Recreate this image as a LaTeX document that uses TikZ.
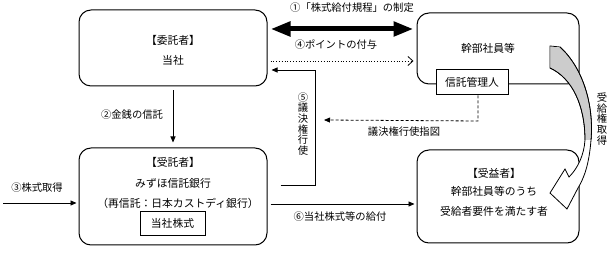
\documentclass[tikz,border=0pt]{standalone}
\usepackage{fontspec}
\setmainfont{Noto Sans CJK JP}
\usetikzlibrary{arrows.meta,calc}
\begin{document}
\begin{tikzpicture}[x=1pt,y=-1pt,
  every node/.style={font=\fontsize{10.8}{12}\selectfont, inner sep=0pt},
  rbox/.style={draw, line width=1pt, rounded corners=12pt},
  sbox/.style={draw, line width=1pt, fill=white},
  lbl/.style={font=\fontsize{10.3}{12}\selectfont},
  vlbl/.style={font=\fontsize{10.3}{10.7}\selectfont, align=center},
  arr/.style={line width=0.9pt, -{Triangle[length=6pt,width=5pt]}},
  dotarr/.style={line width=0.8pt, dotted, -{Straight Barb[length=5pt,width=9pt]}},
  dasharr/.style={line width=0.8pt, dash pattern=on 3pt off 2pt, -{Triangle[length=6pt,width=5pt]}},
  bigarr/.style={line width=5pt, {Triangle[length=20pt,width=14pt]}-{Triangle[length=20pt,width=14pt]}}
]
\useasboundingbox (0,0) rectangle (610,253);

% boxes
\node[rbox, minimum width=188pt, minimum height=76pt] (consignor) at (173,48) {};
\node at (173,40) (consignorT) {【委託者】};
\node at (173,60) (consignorN) {当社};

\node[rbox, minimum width=162pt, minimum height=71pt] (exec) at (498,48.5) {};
\node at (488,48) (execT) {幹部社員等};
\node[sbox, minimum width=72pt, minimum height=25pt] (mgr) at (472,82.5) {信託管理人};

\node[rbox, minimum width=188pt, minimum height=97pt] (trustee) at (173,196.5) {};
\node at (173,162) (trusteeT) {【受託者】};
\node at (173,183) (trusteeN) {みずほ信託銀行};
\node at (178,203.5) (trusteeR) {（再信託：日本カストディ銀行）};
\node[sbox, minimum width=65pt, minimum height=24pt] (stock) at (172.5,223.5) {当社株式};

\node[rbox, minimum width=162pt, minimum height=93pt] (benef) at (498,196.5) {};
\node at (494,173) (benefT) {【受益者】};
\node at (494,191) (benefN) {幹部社員等のうち};
\node at (494,211) (benefR) {受給者要件を満たす者};

% (1) big double arrow
\draw[bigarr] ($(consignor.east)+(3,-19)$) -- ($(exec.west)+(-3,-19.5)$);
\node[lbl] (l1) at (352,8) {①「株式給付規程」の制定};

% (4) dotted arrow
\draw[dotarr] ($(consignor.east)+(3,13)$) -- ($(exec.west)+(-3,12.5)$);
\node[lbl] (l4) at (336,45) {④ポイントの付与};

% (5) voting
\coordinate (v1) at ($(trustee.east)+(13,-11.5)$);
\coordinate (v2) at (315,185);
\coordinate (v3) at (315,70);
\draw[arr] (v1) -- (v2) -- (v3) -- ($(consignor.east)+(4,22)$);
\node[vlbl] (l5) at (303,124) {⑤\\議\\決\\権\\行\\使};

% voting instruction
\coordinate (d1) at ($(mgr.south)+(6,0)$);
\coordinate (d2) at ($(mgr.south)+(6,25.5)$);
\draw[dasharr] (d1) -- (d2) -- (324,120);
\node[lbl] (lvi) at (404,132) {議決権行使指図};

% (2)
\draw[arr] ($(consignor.south)+(0,4)$) -- ($(trustee.north)+(0,-5)$);
\node[lbl] (l2) at (132,115) {②金銭の信託};

% (3)
\coordinate (s3) at (3,203);
\draw[arr] (s3) -- ($(trustee.west)+(-2,6.5)$);
\node[lbl] (l3) at (37,188) {③株式取得};

% (6)
\draw[arr] ($(trustee.east)+(3,7.5)$) -- ($(benef.west)+(-2,7.5)$);
\node[lbl] (l6) at (340,217) {⑥当社株式等の給付};

% curved arrow
\draw[line width=0.8pt, fill=white, line join=miter]
  (550,46) -- (560,47) .. controls (583,68) and (594,105) .. (591,140)
  .. controls (589,165) and (584,178) .. (578,188)
  -- (567,209) -- (550,193) -- (565,169) -- (569,177)
  .. controls (578,168) and (584,155) .. (585,140)
  .. controls (585,105) and (572,78) .. (550,68) -- cycle;
\fill[gray!40] (550.5,46.7) -- (560,47.6) .. controls (582.5,68) and (593.3,105) .. (590.4,140)
  -- (585.6,140) .. controls (585.6,105) and (572,78.6) .. (550.5,67.4) -- cycle;
\draw[line width=0.8pt] (560,47) .. controls (583,68) and (594,105) .. (591,140);
\draw[line width=0.8pt] (585,140) .. controls (585,105) and (572,78) .. (550,68);
\node[vlbl] (lc) at (602,119) {受\\給\\権\\取\\得};
\end{tikzpicture}
\end{document}
